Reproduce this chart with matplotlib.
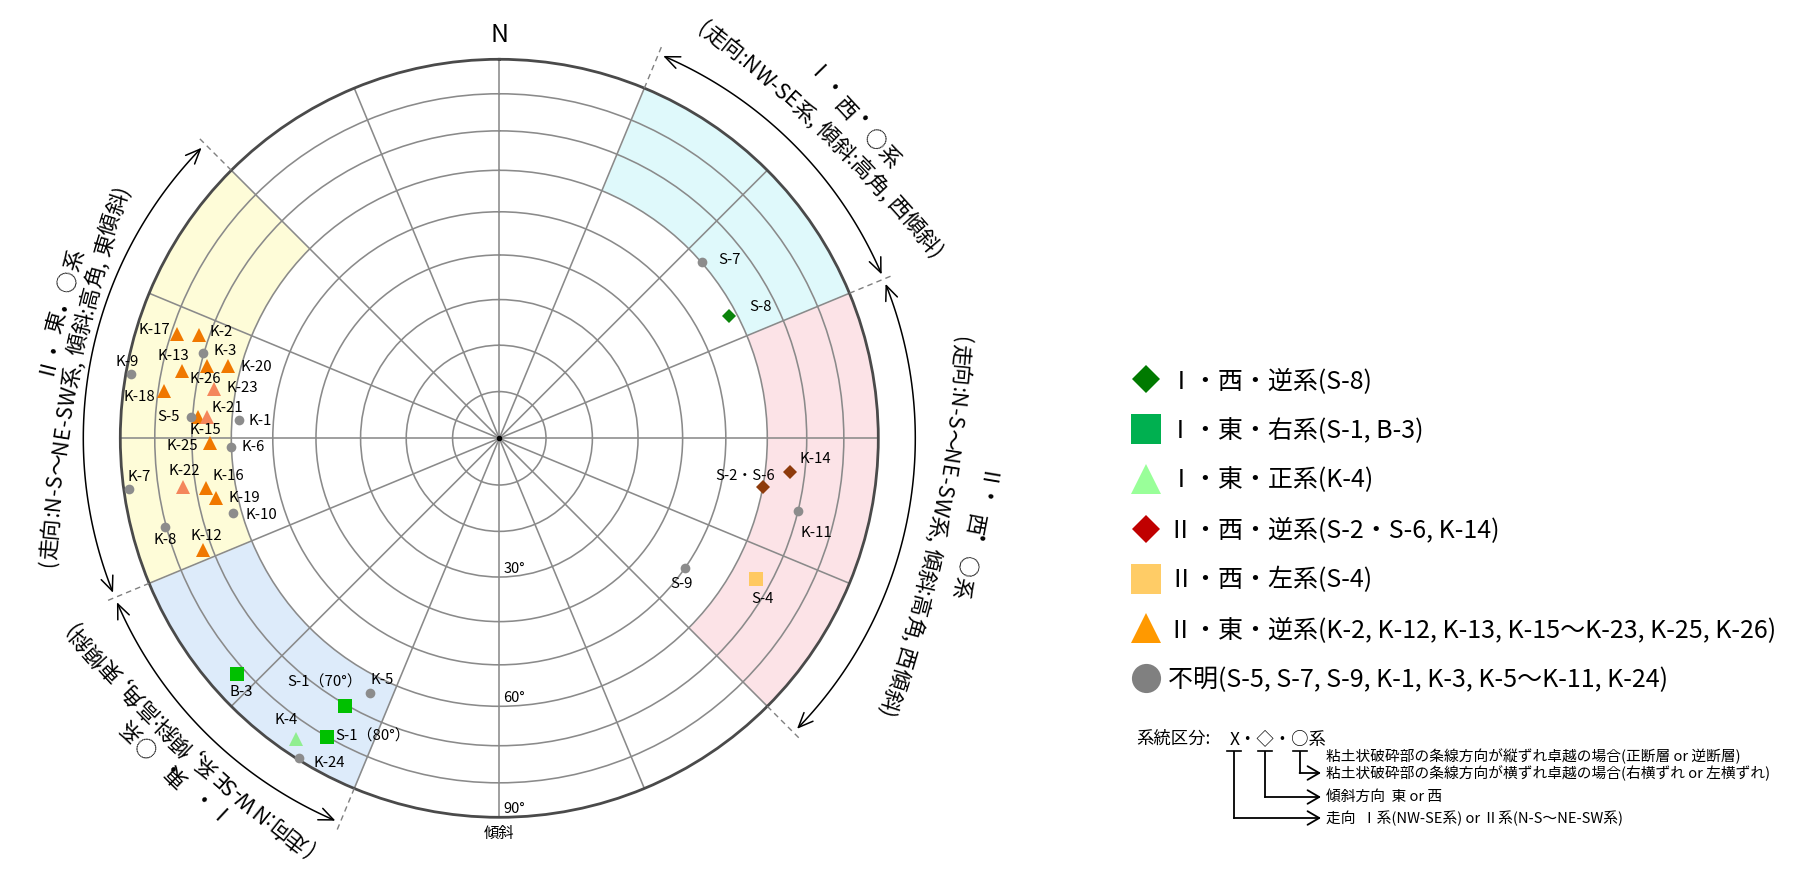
import numpy as np
import matplotlib
matplotlib.use('Agg')
import matplotlib.pyplot as plt
from matplotlib.lines import Line2D
from matplotlib.patches import FancyArrowPatch
from matplotlib.path import Path
from matplotlib.textpath import TextToPath
from matplotlib.font_manager import FontProperties

FAMILY = ['Noto Sans CJK JP', 'DejaVu Sans']
plt.rcParams['font.family'] = FAMILY

# ---- データ (極の方位[deg, 北から時計回り], 傾斜[deg]) ----
i_w_rev_names = ['S-8']
i_w_rev_az = [62.0]
i_w_rev_dip = [58.2]

i_e_right_names = ['S-1（70°）', 'S-1（80°）', 'B-3']
i_e_right_az = [210.0, 210.0, 228.1]
i_e_right_dip = [70.4, 80.2, 82.4]

i_e_norm_names = ['K-4']
i_e_norm_az = [214.0]
i_e_norm_dip = [85.3]

ii_w_rev_names = ['S-2・S-6', 'K-14']
ii_w_rev_az = [100.5, 96.7]
ii_w_rev_dip = [60.0, 66.2]

ii_w_left_names = ['S-4']
ii_w_left_az = [118.8]
ii_w_left_dip = [66.2]

ii_e_rev_names = ['K-2', 'K-12', 'K-13', 'K-15', 'K-16', 'K-17', 'K-18', 'K-19',
                  'K-20', 'K-21', 'K-22', 'K-23', 'K-25', 'K-26']
ii_e_rev_az = [289.0, 249.3, 282.0, 274.1, 260.3, 288.0, 278.1, 258.2,
               284.9, 274.1, 261.2, 279.9, 269.1, 283.9]
ii_e_rev_dip = [72.6, 72.4, 74.6, 68.7, 67.5, 78.5, 78.4, 65.4,
                63.3, 66.4, 73.3, 65.4, 65.3, 68.4]

unknown_names = ['S-5', 'S-7', 'S-9', 'K-1', 'K-3', 'K-5', 'K-6', 'K-7', 'K-8',
                 'K-9', 'K-10', 'K-11', 'K-24']
unknown_az = [274.0, 49.0, 124.8, 274.0, 286.1, 206.9, 268.1, 262.2, 255.2,
              279.9, 254.3, 103.7, 212.0]
unknown_dip = [70.5, 60.3, 50.0, 58.2, 70.3, 64.3, 60.2, 88.3, 80.3,
               88.6, 62.2, 70.1, 89.5]

legend_labels = ['Ⅰ・西・逆系(S-8)', 'Ⅰ・東・右系(S-1, B-3)', 'Ⅰ・東・正系(K-4)',
                 'Ⅱ・西・逆系(S-2・S-6, K-14)', 'Ⅱ・西・左系(S-4)',
                 'Ⅱ・東・逆系(K-2, K-12, K-13, K-15〜K-23, K-25, K-26)',
                 '不明(S-5, S-7, S-9, K-1, K-3, K-5〜K-11, K-24)']

# 区分 (方位範囲, 色, 表題, 説明)
sector_range = [(22.5, 67.5), (67.5, 135.0), (202.5, 247.5), (247.5, 315.0)]
sector_title = ['Ⅰ・西・○系', 'Ⅱ・西・○系', 'Ⅰ・東・○系', 'Ⅱ・東・○系']
sector_desc = ['(走向:NW-SE系, 傾斜:高角, 西傾斜)', '(走向:N-S〜NE-SW系, 傾斜:高角, 西傾斜)',
               '(走向:NW-SE系, 傾斜:高角, 東傾斜)', '(走向:N-S〜NE-SW系, 傾斜:高角, 東傾斜)']
sector_color = ['#DFF9FB', '#FCE3E7', '#DDEBFA', '#FEFCD8']
dip_ticks = [30, 60, 90]

note_head = '系統区分:'
note_code = 'X・◇・○系'
note_lines = ['粘土状破砕部の条線方向が縦ずれ卓越の場合(正断層 or 逆断層)',
              '粘土状破砕部の条線方向が横ずれ卓越の場合(右横ずれ or 左横ずれ)',
              '傾斜方向  東 or 西',
              '走向  Ⅰ系(NW-SE系) or Ⅱ系(N-S〜NE-SW系)']

# ---- 配置 ----
W, H = 1809, 869
CX, CY, R = 499.3, 438.3, 379.0

# ラベルのずれ (px, 右/下が正)
label_off = {
    'K-17': (-22, -4), 'K-2': (22, -3), 'K-3': (22, -2), 'K-13': (-8, -15),
    'K-26': (-2, 13), 'K-20': (29, 1), 'K-23': (28, -1), 'K-9': (-3, -12),
    'K-18': (-25, 6), 'S-5': (-22, 0), 'K-21': (21, -9), 'K-15': (8, 13),
    'K-1': (21, 1), 'K-25': (-28, 3), 'K-6': (22, 0), 'K-7': (10, -12),
    'K-22': (1, -16), 'K-16': (23, -12), 'K-19': (28, 0), 'K-10': (29, 2),
    'K-8': (0, 13), 'K-12': (3, -14), 'S-7': (27, -2), 'S-8': (31, -9),
    'K-14': (25, -13), 'S-2・S-6': (-18, -11), 'K-11': (18, 22), 'S-9': (-4, 16),
    'S-4': (7, 20), 'B-3': (5, 18), 'S-1（70°）': (-20, -23), 'K-5': (12, -13),
    'K-4': (-10, -19), 'S-1（80°）': (46, -1), 'K-24': (30, 5),
}


def fwd(d):
    return np.sqrt(2) * np.sin(np.radians(np.asarray(d, float)) / 2)


def inv(r):
    return np.degrees(2 * np.arcsin(np.clip(np.asarray(r, float) / np.sqrt(2), -1, 1)))


fig = plt.figure(figsize=(W / 100, H / 100), dpi=100)
ax = fig.add_axes([(CX - R) / W, (H - CY - R) / H, 2 * R / W, 2 * R / H], projection='polar')
ax.set_theta_zero_location('N')
ax.set_theta_direction(-1)
ax.set_rscale('function', functions=(fwd, inv))
ax.set_rlim(0, 90)
ax.set_rticks(np.arange(10, 90, 10))
ax.set_yticklabels([])
ax.set_xticks(np.radians(np.arange(0, 360, 22.5)))
ax.set_xticklabels([])
ax.tick_params(length=0)
ax.grid(True, color='#8a8a8a', lw=1.15)
ax.spines['polar'].set_color('#4a4a4a')
ax.spines['polar'].set_linewidth(2.0)

# 高角区分の塗りつぶし
for (a0, a1), col in zip(sector_range, sector_color):
    th = np.radians(np.linspace(a0, a1, 120))
    ax.fill_between(th, 60, 90, color=col, lw=0, zorder=0.5)

ax.plot(0, 0, 'o', color='black', ms=3, zorder=4)

groups = [
    (i_w_rev_names, i_w_rev_az, i_w_rev_dip, dict(marker='D', color='#0B840B', ms=7.5)),
    (i_e_right_names, i_e_right_az, i_e_right_dip, dict(marker='s', color='#00C000', ms=10)),
    (i_e_norm_names, i_e_norm_az, i_e_norm_dip, dict(marker='^', color='#90EE90', ms=10)),
    (ii_w_rev_names, ii_w_rev_az, ii_w_rev_dip, dict(marker='D', color='#8E3B0C', ms=7.5)),
    (ii_w_left_names, ii_w_left_az, ii_w_left_dip, dict(marker='s', color='#FFC961', ms=10)),
    (ii_e_rev_names, ii_e_rev_az, ii_e_rev_dip, dict(marker='^', color='#F07800', ms=10)),
    (unknown_names, unknown_az, unknown_dip, dict(marker='o', color='#8c8c8c', ms=7)),
]
light = ['K-21', 'K-22', 'K-23']
for names, az, dip, st in groups:
    az = np.asarray(az)
    dip = np.asarray(dip)
    m = np.array([n not in light for n in names])
    ax.plot(np.radians(az[m]), dip[m], ls='none', mew=0, zorder=3, clip_on=False, **st)
    if (~m).any():
        st2 = dict(st, color='#F4865C')
        ax.plot(np.radians(az[~m]), dip[~m], ls='none', mew=0, zorder=3, **st2)
    for n, a, d in zip(names, az, dip):
        dx, dy = label_off[n]
        ax.annotate(n, xy=(np.radians(a), d), xytext=(dx * 0.72, -dy * 0.72),
                    textcoords='offset points', ha='center', va='center',
                    fontsize=10.8, zorder=5, annotation_clip=False)

for d in dip_ticks:
    ax.annotate(f'{d}°', xy=(np.pi, d), xytext=(3, 1), textcoords='offset points',
                ha='left', va='bottom', fontsize=10.5, annotation_clip=False)
ax.annotate('N', xy=(0, 90), xytext=(0, 17.8), textcoords='offset points',
            ha='center', va='center', fontsize=18, annotation_clip=False)
ax.annotate('傾斜', xy=(np.pi, 90), xytext=(0, -11.5), textcoords='offset points',
            ha='center', va='center', fontsize=11, annotation_clip=False)

# ---- 外側の注記 (ピクセル座標) ----
ov = fig.add_axes([0, 0, 1, 1])
ov.set_xlim(0, W)
ov.set_ylim(H, 0)
ov.axis('off')
ov.set_zorder(5)


def pix(az, r):
    a = np.radians(az)
    return CX + r * np.sin(a), CY - r * np.cos(a)


ttp = TextToPath()


def width_px(s, fs):
    prop = FontProperties(family=FAMILY, size=fs)
    w, h, d = ttp.get_text_width_height_descent(s, prop, ismath=False)
    return w * 100 / 72


def char_centers(s, fs):
    base = width_px('|', fs)
    cum = [0.0] + [width_px(s[:k + 1] + '|', fs) - base for k in range(len(s))]
    return [0.5 * (cum[k] + cum[k + 1]) for k in range(len(s))], cum[-1]


def arc_text(s, az_t, r_t, shift, fs, flat=3.3):
    # 方位 az_t で半径 r_t に接するゆるい円弧に沿って、時計回りに文字を並べる
    rho = r_t * flat
    em = fs * 100 / 72
    a = np.radians(az_t)
    ox, oy = (r_t - rho) * np.sin(a), (r_t - rho) * np.cos(a)
    centers, total = char_centers(s, fs)
    rb = rho - 0.36 * em
    for ch, c in zip(s, centers):
        if ch == ' ':
            continue
        beta = az_t + np.degrees((c - total / 2 + shift) / rho)
        b = np.radians(beta)
        x = CX + ox + rb * np.sin(b)
        y = CY - (oy + rb * np.cos(b))
        ov.text(x, y, ch, rotation=-beta, rotation_mode='anchor', ha='center',
                va='baseline', fontsize=fs)


bounds = sorted({a for rng in sector_range for a in rng})
for a in bounds:
    x0, y0 = pix(a, R)
    x1, y1 = pix(a, 426)
    ov.plot([x0, x1], [y0, y1], ls=(0, (4, 3)), color='#808080', lw=1.0)

for a0, a1 in sector_range:
    t = np.linspace(a0 + 0.7, a1 - 0.7, 80)
    xs, ys = pix(t, 416)
    arr = FancyArrowPatch(path=Path(np.column_stack([xs, ys])),
                          arrowstyle='<->,head_length=0.75,head_width=0.32',
                          mutation_scale=14, color='black', lw=1.1,
                          transform=ov.transData)
    ov.add_patch(arr)

# (説明: 接点方位, 接点半径, ずれ) (表題: 方位, 半径)
desc_pos = [(42.7, 447, 33), (101.3, 447, 3), (222.3, 440, 27), (282.5, 432, -30)]
title_pos = [(47.7, 479), (101.5, 484), (225.0, 468), (286.0, 460)]
for (at, rt, sh), (tt, tr), ttl, dsc in zip(desc_pos, title_pos, sector_title, sector_desc):
    arc_text(dsc, at, rt, sh, 15.5)
    arc_text(ttl, tt, tr, 0, 15.5)

# 凡例
handles = [
    Line2D([], [], ls='none', marker='D', ms=14.5, color='#007A00', mew=0),
    Line2D([], [], ls='none', marker='s', ms=21, color='#00B050', mew=0),
    Line2D([], [], ls='none', marker='^', ms=22, color='#99FF99', mew=0),
    Line2D([], [], ls='none', marker='D', ms=14.5, color='#C00000', mew=0),
    Line2D([], [], ls='none', marker='s', ms=21, color='#FFCC66', mew=0),
    Line2D([], [], ls='none', marker='^', ms=22, color='#FF9900', mew=0),
    Line2D([], [], ls='none', marker='o', ms=21, color='#808080', mew=0),
]
ov.legend(handles, legend_labels, loc='upper left', bbox_to_anchor=(1127, 368),
          bbox_transform=ov.transData, frameon=False, fontsize=18,
          labelspacing=0.95, handlelength=1.5, handletextpad=0.15,
          borderpad=0, borderaxespad=0)

# 系統区分の説明
ov.text(1136, 739, note_head, fontsize=12.5, ha='left', va='center')
fs_code = 12.5
cen, tot = char_centers(note_code, fs_code)
x_code = 1300.2 - cen[4]
ov.text(x_code, 739, note_code, fontsize=fs_code, ha='left', va='center')
xs_mark = [x_code + cen[k] for k in (0, 2, 4)]
for x in xs_mark:
    ov.plot([x - 7, x + 7], [751, 751], color='black', lw=1.2)
note_y = [756, 773, 797, 818]
for s, y in zip(note_lines, note_y):
    ov.text(1326, y, s, fontsize=10.6, ha='left', va='center')
for x, y in zip(xs_mark[::-1], note_y[1:]):
    ov.plot([x, x], [752, y], color='black', lw=1.3)
    ov.annotate('', xy=(1321, y), xytext=(x - 0.6, y),
                arrowprops=dict(arrowstyle='->,head_length=0.6,head_width=0.35',
                                lw=1.3, color='black', mutation_scale=14,
                                shrinkA=0, shrinkB=0))

fig.savefig('out.png', dpi=100)
